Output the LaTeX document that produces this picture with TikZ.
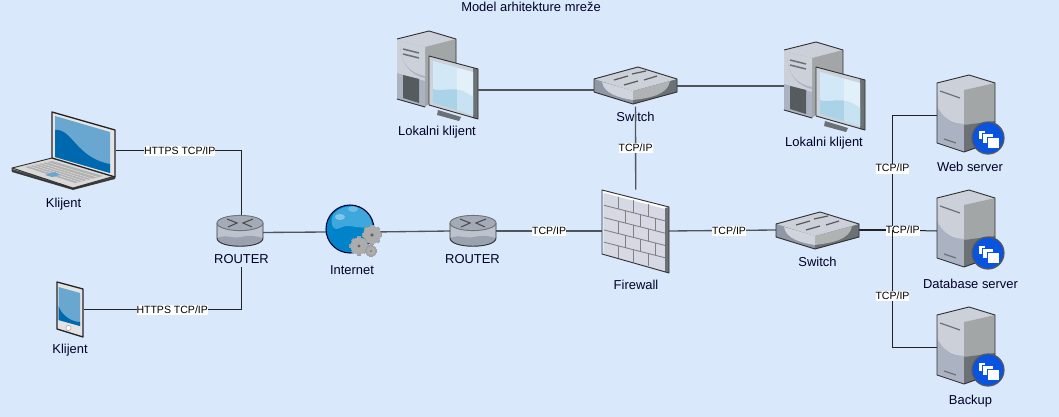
\documentclass[tikz,border=0pt]{standalone}
\usepackage{fontspec}
\setmainfont{Liberation Sans}
\definecolor{bgc}{HTML}{DAE8FC}
\definecolor{ink}{HTML}{222222}
\definecolor{wire}{HTML}{50555B}
\definecolor{fa}{HTML}{CBD0D9}
\definecolor{fb}{HTML}{A2A6A7}
\definecolor{fc}{HTML}{ABB3C2}
\definecolor{fd}{HTML}{6C7176}
\definecolor{scrA}{HTML}{69A6D0}
\definecolor{scrB}{HTML}{0068AE}
\definecolor{monA}{HTML}{D3E8F6}
\definecolor{monB}{HTML}{AAD3E8}
\definecolor{brick}{HTML}{D6D9E3}
\definecolor{badge}{RGB}{8,84,225}
\newcommand\gearat[3]{%
  \foreach \ga in {0,45,...,315}{\fill[fill=gray!75,shift={(#1,#2)},rotate=\ga] (-1.6,-#3-1.2) rectangle (1.6,0);}
  \fill[gray!65] (#1,#2) circle[radius=#3];
  \fill[gray!30!black!70] (#1,#2) circle[radius=#3*0.2];
}
\tikzset{
  box/.style={inner sep=0pt,minimum width=#1,outer sep=0pt,rectangle},
  lab/.style={font=\fontsize{9.7pt}{11pt}\selectfont,text=black!85!blue,inner sep=0pt,text height=7pt,text depth=2pt,yshift=-1.2pt},
  tag/.style={font=\fontsize{7.9pt}{9pt}\selectfont,text=black,fill=white,inner sep=0pt,minimum height=7.5pt,text height=5.8pt,text depth=.8pt,yshift=-.3pt},
  wa/.style={draw=ink,line width=.75pt},
  wb/.style={draw=wire,line width=1pt},
  ol/.style={draw=black!80,line width=.7pt,line join=round},
  olb/.style={draw=black!85,line width=1pt,line join=round},
  router/.pic={
    \fill[fc!80!white] (0,8) -- (0,23) .. controls (0,34) and (46,34) .. (46,23) -- (46,8) -- cycle;
    \fill[fc!90!black] (0,23) .. controls (10,19) and (15,24) .. (24,22) .. controls (32,20) and (40,21) .. (46,23) .. controls (46,34) and (0,34) .. (0,23);
    \draw[ol] (0,8) -- (0,23) .. controls (0,34) and (46,34) .. (46,23) -- (46,8);
    \fill[fc!85!gray] (23,8) ellipse [x radius=23,y radius=7.6];
    \draw[ol,draw=black!55] (23,8) ellipse [x radius=23,y radius=7.6];
    \draw[black!70,line width=.8pt] (10,4) -- (20,8) -- (11,12) (36,4) -- (26,8) -- (35,12);
  },
  switchbox/.pic={
    \fill[fd] (0,12) -- (44,0) -- (83,12) -- (83,25) -- (39,37) -- (0,25) -- cycle;
    \fill[fd] (39,24) -- (83,12) -- (83,25) -- (39,37) -- cycle;
    \fill[fc!85!black] (0,12) -- (39,24) -- (39,37) -- (0,25) -- cycle;
    \fill[fa] (0,12) -- (44,0) -- (83,12) -- (39,24) -- cycle;
    \fill[fa!90!white] (8,15) .. controls (10,27) and (26,31) .. (39,33) -- (39,24) -- cycle;
    \fill[fb!85!white] (39,24) -- (39,33) .. controls (55,31) and (74,28) .. (76,14) -- cycle;
    \draw[ol] (0,12) -- (44,0) -- (83,12) -- (83,25) -- (39,37) -- (0,25) -- cycle;
    \draw[black!65,line width=.9pt] (20,13) -- (34,9) (38,7) -- (52,4) (30,18) -- (44,14) (50,13) -- (63,9);
  },
  pc/.pic={
    \fill[fa] (0,8) -- (32,0) -- (59,8) -- (28,16) -- cycle;
    \fill[fa] (0,8) -- (28,16) -- (28,50) -- (0,44) -- cycle;
    \fill[fc] (0,42) -- (28,50) -- (28,76) -- (0,68) -- cycle;
    \fill[fb] (28,16) -- (59,8) -- (59,50) -- (28,76) -- cycle;
    \fill[fc] (3,10) .. controls (3,34) and (14,44) .. (28,47) -- (28,16) -- cycle;
    \fill[fa] (3,10) .. controls (3,34) and (14,42) .. (28,45) -- (28,16) -- cycle;
    \fill[fd!80!black] (6,44) -- (22,48) -- (22,72) -- (6,67) -- cycle;
    \draw[ol] (0,8) -- (32,0) -- (59,8) -- (59,40) (28,76) -- (0,68) -- cycle;
    \draw[fd,line width=1.1pt] (6,18) -- (22,22) (6,23) -- (22,27);
    \fill[fd] (41,79) -- (64,86) -- (62,90) -- (40,84) -- cycle;
    \fill[fc!60!white] (32,25) -- (81,38) -- (81,88) -- (32,74) -- cycle;
    \fill[fd] (76,37) -- (81,38) -- (81,88) -- (76,87) -- cycle;
    \fill[monA] (36,30) -- (76,41) -- (76,84) -- (36,72) -- cycle;
    \fill[monB] (36,58) .. controls (46,62) and (58,52) .. (76,66) -- (76,84) -- (36,72) -- cycle;
    \fill[white,opacity=.35] (60,37) -- (76,41) -- (76,84) -- (60,79) -- cycle;
    \draw[ol] (32,25) -- (81,38) -- (81,88) -- (32,74) -- cycle;
  },
  server/.pic={
    \fill[fa] (0,8) -- (32,0) -- (58,8) -- (27,15) -- cycle;
    \fill[fa] (0,8) -- (27,15) -- (27,50) -- (0,40) -- cycle;
    \fill[fc] (0,30) .. controls (4,42) and (14,48) .. (27,49) -- (27,77) -- (0,68) -- cycle;
    \fill[fb] (27,15) -- (58,8) -- (58,48) -- (27,50) -- cycle;
    \fill[fd] (27,50) -- (58,46) -- (58,66) -- (27,77) -- cycle;
    \fill[fc!70!white] (0,8) .. controls (2,14) and (2,36) .. (2,36) -- (0,30) -- cycle;
    \draw[ol] (0,8) -- (32,0) -- (58,8) -- (58,66) -- (27,77) -- (0,68) -- cycle;
    \draw[fd,line width=.9pt] (3,16) -- (23,23) (7,64) -- (19,68);
    \begin{scope}[shift={(51,63)}]
      \fill[fill=badge,draw=gray!70!black,line width=.9pt] (0,0) circle[radius=16];
      \draw[fill=white,draw=badge,line width=.4pt] (-10,-8) rectangle (-3,1);
      \draw[fill=white,draw=badge,line width=.4pt] (-6,-5) rectangle (5,5);
      \draw[fill=white,draw=badge,line width=.4pt] (-1,-1) rectangle (11,10);
    \end{scope}
  }
}
\begin{document}
\begin{tikzpicture}[x=.75pt,y=-.75pt]
\useasboundingbox (0,0) rectangle (1059,417);
\fill[bgc] (0,0) rectangle (1059,417);
% anchor boxes
\node[box=105*.75pt,minimum height=58.5pt] (lap) at (63.5,150.5) {};
\node[box=27*.75pt,minimum height=41pt] (pho) at (70.5,309.5) {};
\node[box=42*.75pt,minimum height=24pt] (r1) at (241.5,232.5) {};
\node[box=46*.75pt,minimum height=24pt] (r2) at (473,231) {};
\node[box=48*.75pt,minimum height=36pt] (net) at (350,232) {};
\node[box=67*.75pt,minimum height=62pt] (fw) at (635.7,231) {};
\node[box=83*.75pt,minimum height=28pt] (s1) at (635.5,88) {};
\node[box=83*.75pt,minimum height=28pt] (s2) at (817.5,230) {};
\node[box=81*.75pt,minimum height=60pt] (p1) at (437.5,90) {};
\node[box=81*.75pt,minimum height=60pt] (p2) at (824.5,86) {};
\node[box=58*.75pt,minimum height=58pt] (sv1) at (966,115.5) {};
\node[box=58*.75pt,minimum height=58pt] (sv2) at (966,231) {};
\node[box=58*.75pt,minimum height=58pt] (sv3) at (966,347.5) {};
\coordinate (bus) at (892.5,230);
% text labels
\node[lab] at (531,7) {Model arhitekture mreže};
\node[lab] at (63.5,203) {Klijent};
\node[lab] at (70,349) {Klijent};
\node[lab] (r1lab) at (241.5,259) {ROUTER};
\node[lab] at (472.5,259) {ROUTER};
\node[lab] at (352,270) {Internet};
\node[lab] at (636,285) {Firewall};
\node[lab] (s1lab) at (635.5,117) {Switch};
\node[lab] at (817.5,262) {Switch};
\node[lab] at (437,131) {Lokalni klijent};
\node[lab] at (824,142) {Lokalni klijent};
\node[lab] at (970,167) {Web server};
\node[lab] at (970.5,283.5) {Database server};
\node[lab] at (970.5,399.5) {Backup};
% connectors
\draw[wa] (lap.east) -| (r1.north) node[tag,pos=.254] {HTTPS TCP/IP};
\draw[wa] (pho.east) -| (r1lab.south) node[tag,pos=.28] {HTTPS TCP/IP};
\draw[wb] (r1.east) -- (net.west);
\draw[wb] (net.east) -- (r2.west);
\draw[wb] (r2.east) -- (fw.west) node[tag,midway] {TCP/IP};
\draw[wb] (s1.south) -- (fw.north) node[tag,pos=.49] {TCP/IP};
\draw[wb] (p1.east) -- (s1.west |- p1.east);
\draw[wb] (s1.east |- p2.west) -- (p2.west);
\draw[wb] (fw.east) -- (s2.west) node[tag,pos=.56] {TCP/IP};
\draw[wa,line width=1.2pt] (s2.east) -- (bus);
\draw[wa] (bus) |- (sv1.west) node[tag,pos=.27] {TCP/IP};
\draw[wa] (bus) -- (sv2.west) node[tag,pos=.23] {TCP/IP};
\draw[wa] (bus) |- (sv3.west) node[tag,pos=.28] {TCP/IP};
% laptop
\begin{scope}
  \fill[black!70] (12,169) -- (12,172) -- (73,190) -- (115,179) -- (115,176) -- (73,186) -- cycle;
  \fill[gray!30] (12,168) -- (52,158) -- (115,176) -- (73,188) -- cycle;
  \draw[ol] (12,168) -- (52,158) (115,176) -- (73,188) -- (12,168) -- (12,171) -- (73,189) -- (115,178);
  \fill[gray!60] (25,167) -- (52,161) -- (103,176) -- (75,183) -- cycle;
  \draw[gray!25,line width=.35pt] (29,166) -- (79,182) (33,165) -- (83,181) (37,164) -- (88,180) (41,163) -- (92,179) (46,162) -- (97,177);
  \fill[scrA] (50,173) -- (55,172) -- (60,175) -- (52,177) -- (45,175) -- cycle;
  \fill[gray!20] (52,112) -- (115,130) -- (115,177) -- (52,158) -- cycle;
  \fill[scrA] (55,116) -- (110,132) -- (110,173) -- (55,157) -- cycle;
  \fill[scrB] (55,130) .. controls (72,128) and (76,158) .. (110,164) -- (110,173) -- (55,157) -- cycle;
  \draw[olb] (52,112) -- (115,130) -- (115,177) -- (52,158) -- cycle;
\end{scope}
% phone
\fill[gray!22] (57,282) -- (83,289) -- (83,337) -- (57,329) -- cycle;
\fill[scrA] (58.5,287) -- (80,293) -- (80,326) -- (58.5,320) -- cycle;
\fill[scrB] (58.5,306) .. controls (62,316) and (72,322) .. (80,322) -- (80,326) -- (58.5,320) -- cycle;
\draw[olb] (57,282) -- (83,289) -- (83,337) -- (57,329) -- cycle;
\draw[gray!70,fill=white,line width=.4pt] (68.5,328) circle[radius=2.6];
% routers, switches, desktops
\pic at (217,215) {router};
\pic at (450,215) {router};
\pic at (594,67) {switchbox};
\pic at (776,212) {switchbox};
\pic at (397,31) {pc};
\pic at (784,42) {pc};
% servers
\pic at (937,75) {server};
\pic at (937,190) {server};
\pic at (937,307) {server};
% globe
\fill[fill={rgb,255:red,0;green,131;blue,201}] (350,229) circle[radius=24];
\fill[fill={rgb,255:red,62;green,168;blue,220}] (333,215) .. controls (345,200) and (370,205) .. (372,225) .. controls (362,232) and (350,222) .. (340,228) .. controls (332,232) and (330,222) .. (333,215);
\fill[white,opacity=.35] (340,217) ellipse [x radius=5,y radius=3];
\fill[white,opacity=.25] (353,209) ellipse [x radius=5,y radius=3];
\draw[draw=black!80!blue,line width=.8pt] (350,229) circle[radius=24];
\gearat{372}{235}{9}
\gearat{359}{246}{8.5}
\gearat{371}{251}{4.5}
% firewall
\fill[white] (602,190) -- (669,207) -- (665,210) -- (604,195) -- cycle;
\fill[brick] (604,193) -- (665,209) -- (665,272) -- (604,254) -- cycle;
\fill[fd] (665,208) -- (669,207) -- (669,273) -- (665,272) -- cycle;
\begin{scope}[cm={1,-0.255,0,1,(604,193)},draw=black!50,line width=.65pt]
  \foreach \r in {1,2,3,4}{\draw (0,\r*12.3) -- (61,\r*12.3);}
  \foreach \xx in {14,29,44}{\draw (\xx,0) -- (\xx,12.3) (\xx,24.6) -- (\xx,36.9) (\xx,49.2) -- (\xx,61.5);}
  \foreach \xx in {21,36,51}{\draw (\xx,12.3) -- (\xx,24.6) (\xx,36.9) -- (\xx,49.2);}
\end{scope}
\draw[ol] (602,190) -- (669,207) -- (669,273) -- (602,254) -- cycle;
\end{tikzpicture}
\end{document}
